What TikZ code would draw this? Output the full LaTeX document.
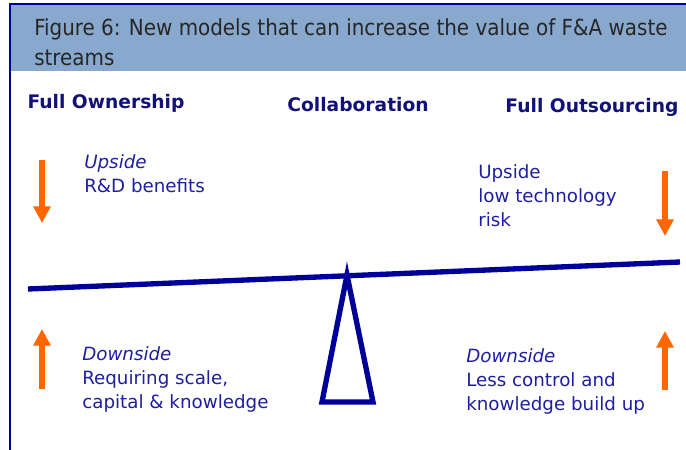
\documentclass[tikz,border=0pt]{standalone}
\usepackage{fontspec}
\setmainfont{DejaVu Sans}
\newfontfamily\titlefont{DejaVu Sans Condensed}
\usetikzlibrary{arrows.meta,positioning}

\definecolor{bandblue}{HTML}{88A9CD}
\definecolor{navy}{HTML}{000099}
\definecolor{textblue}{HTML}{1E1E9E}
\definecolor{headblue}{HTML}{111177}
\definecolor{orng}{HTML}{FF6600}

\tikzset{
  lbl/.style={anchor=west, text=textblue, align=left, inner sep=0pt,
              font=\fontsize{13.7}{18}\selectfont},
  head/.style={text=headblue, inner sep=0pt,
               font=\bfseries\fontsize{14}{16}\selectfont},
  force/.style={orng, line width=3.8pt, -{Triangle[width=12.5pt,length=12.5pt]}},
  beam/.style={navy, line width=4pt, line join=miter}
}

\begin{document}
\begin{tikzpicture}[x=0.75pt,y=-0.75pt]
\useasboundingbox (0,0) rectangle (686,450);

% title band
\fill[bandblue] (10,4) rectangle (686,71);
\draw[navy, line width=1.5pt] (686,3.5) -- (9.5,3.5) -- (9.5,450);
\node[anchor=west, inner sep=0pt, align=left, text=black!85,
      font=\titlefont\fontsize{16.6}{22.5}\selectfont] (title) at (34,42)
  {Figure 6: New models that can increase the value of F\&A waste\\streams};

% headings
\node[head] (own) at (106,103) {Full Ownership};
\node[head] (collab) at (358,105) {Collaboration};
\node[head] (out) at (592,107) {Full Outsourcing};

% seesaw
\draw[beam] (28,289) -- (680,262);
\draw[beam] (347,275) -- (373,402) -- (322,402) -- cycle;

% forces
\coordinate (ulA) at (42,160);  \coordinate (ulB) at (42,223);
\coordinate (llA) at (42,389);  \coordinate (llB) at (42,329);
\coordinate (urA) at (665,171); \coordinate (urB) at (665,236);
\coordinate (lrA) at (665,390); \coordinate (lrB) at (665,331);
\draw[force] (ulA) -- (ulB);
\draw[force] (llA) -- (llB);
\draw[force] (urA) -- (urB);
\draw[force] (lrA) -- (lrB);

% labels
\node[lbl] (upOwn) at (84,173.5) {\textit{Upside}\\R\&D benefits};
\node[lbl] (upOut) at (478,196) {Upside\\low technology\\risk};
\node[lbl] (downOwn) at (82,379) {\textit{Downside}\\Requiring scale,\\capital \& knowledge};
\node[lbl] (downOut) at (466,381) {\textit{Downside}\\Less control and\\knowledge build up};
\end{tikzpicture}
\end{document}
